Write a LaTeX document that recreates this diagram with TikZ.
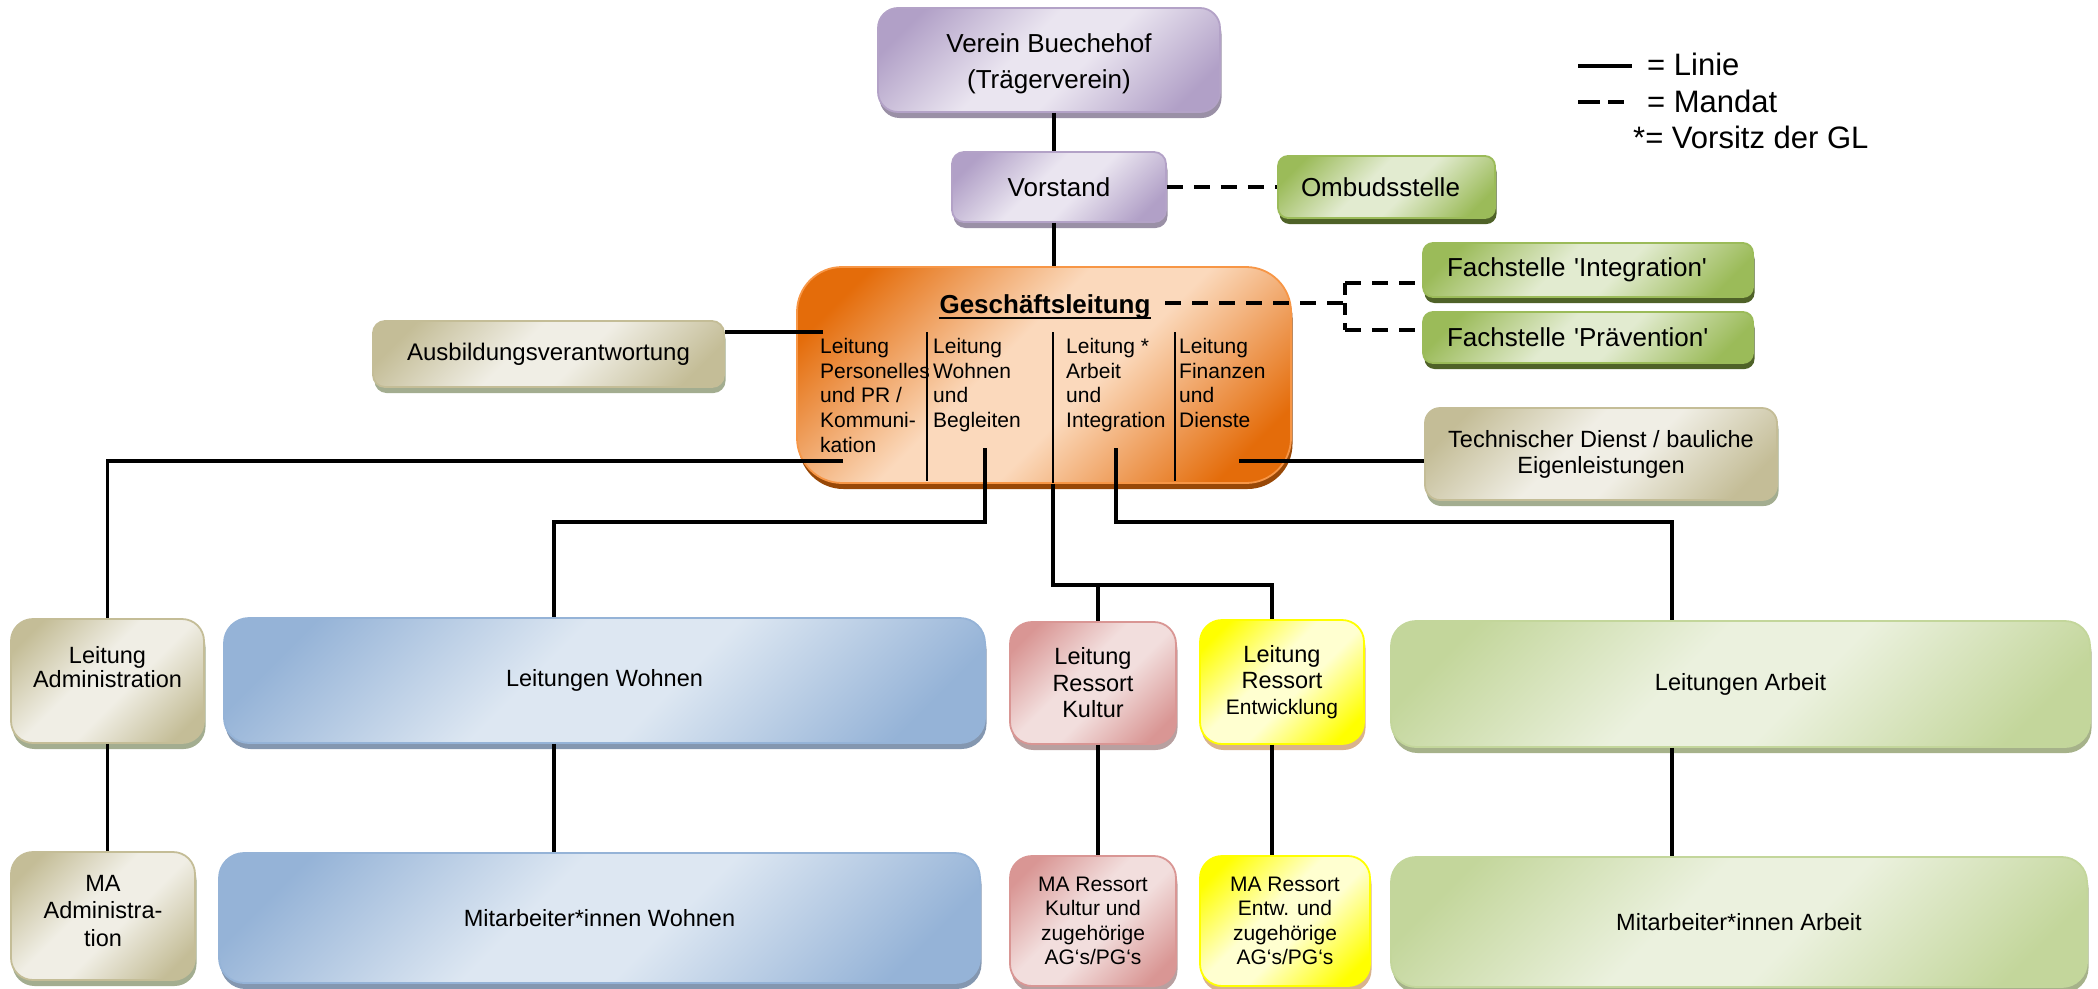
\documentclass[tikz,border=0pt]{standalone}
\usepackage{fontspec}
\setmainfont{Liberation Sans}
\usetikzlibrary{shadows}
\newcommand{\fsz}[2]{\fontsize{#1}{#2}\selectfont}
\definecolor{purB}{HTML}{B3A2C7}\definecolor{purD}{HTML}{B1A0C7}\definecolor{purL}{HTML}{EAE5F0}\definecolor{purS}{HTML}{9A90A6}
\definecolor{grnB}{HTML}{9BBB59}\definecolor{grnD}{HTML}{9BBB59}\definecolor{grnL}{HTML}{E2EBD0}\definecolor{grnS}{HTML}{4F6228}
\definecolor{orgB}{HTML}{F79646}\definecolor{orgD}{HTML}{E46C0A}\definecolor{orgL}{HTML}{FBD9BC}\definecolor{orgS}{HTML}{984807}
\definecolor{tanB}{HTML}{C4BD97}\definecolor{tanD}{HTML}{C4BD97}\definecolor{tanL}{HTML}{F0EEE5}\definecolor{tanS}{HTML}{A3AD90}
\definecolor{bluB}{HTML}{95B3D7}\definecolor{bluD}{HTML}{95B3D7}\definecolor{bluL}{HTML}{DDE7F2}\definecolor{bluS}{HTML}{8497B0}
\definecolor{redB}{HTML}{D99694}\definecolor{redD}{HTML}{D99694}\definecolor{redL}{HTML}{F2DEDD}\definecolor{redS}{HTML}{B8A0A0}
\definecolor{yelB}{HTML}{FFFF00}\definecolor{yelD}{HTML}{FFFF00}\definecolor{yelL}{HTML}{FFFFD0}\definecolor{yelS}{HTML}{D9B38C}
\definecolor{lgrB}{HTML}{C3D69B}\definecolor{lgrD}{HTML}{C3D69B}\definecolor{lgrL}{HTML}{EBF1DE}\definecolor{lgrS}{HTML}{A6B28A}
\colorlet{shD}{black}\colorlet{shL}{white}
\pgfdeclareverticalshading[shD,shL]{plateau}{100bp}{color(0bp)=(shD); color(22bp)=(shD); color(44bp)=(shL); color(56bp)=(shL); color(78bp)=(shD); color(100bp)=(shD)}
\tikzset{
  colbox/.style n args={4}{draw=#1, line width=1.8pt, inner sep=0pt, align=center,
    /utils/exec={\colorlet{shD}{#2}\colorlet{shL}{#3}},
    shading=plateau, shading angle=45, shade,
    drop shadow={shadow xshift=1.5pt, shadow yshift=-6pt, fill=#4, opacity=1}},
  purplebox/.style={colbox={purB}{purD}{purL}{purS}},
  greenbox/.style={colbox={grnB}{grnD}{grnL}{grnS}},
  orangebox/.style={colbox={orgB}{orgD}{orgL}{orgS}},
  tanbox/.style={colbox={tanB}{tanD}{tanL}{tanS}},
  bluebox/.style={colbox={bluB}{bluD}{bluL}{bluS}},
  redbox/.style={colbox={redB}{redD}{redL}{redS}},
  yellowbox/.style={colbox={yelB}{yelD}{yelL}{yelS}},
  lgreenbox/.style={colbox={lgrB}{lgrD}{lgrL}{lgrS}},
  coltext/.style={anchor=north west, inner sep=0pt, align=left, font=\fsz{21}{24.7}},
  legtext/.style={anchor=base west, inner sep=0pt, font=\fsz{31}{37}},
  conn/.style={line width=3.2pt},
  mand/.style={line width=3.2pt, dash pattern=on 16pt off 11pt},
  sepline/.style={line width=1.3pt}
}
\begin{document}
\begin{tikzpicture}[x=1pt, y=-1pt]
\useasboundingbox (0,0) rectangle (2098,988);

% top
\node[purplebox, rounded corners=20pt, minimum width=342pt, minimum height=104pt] (verein) at (1049,60) {};
\node[inner sep=0pt, align=center, font=\fsz{26}{36}] (vereintxt) at (1049,64) {Verein Buechehof\\(Trägerverein)};
\node[purplebox, rounded corners=12pt, minimum width=214pt, minimum height=70pt, font=\fsz{26}{30}] (vorstand) at (1059,187) {Vorstand};
\node[greenbox, rounded corners=10pt, minimum width=217pt, minimum height=62pt, inner xsep=23pt, text width=171pt, align=left, font=\fsz{26}{30}] (ombuds) at (1386.5,187) {Ombudsstelle};

% Geschaeftsleitung
\node[orangebox, rounded corners=45pt, minimum width=494pt, minimum height=216pt] (gl) at (1044,375) {};
\node[anchor=base, inner sep=0pt, font=\fsz{26}{30}\bfseries] (gltitle) at (1045,313) {Geschäftsleitung};
\draw[line width=2pt] ([yshift=-5pt]gltitle.base west) -- ([yshift=-5pt]gltitle.base east);
\node[coltext] (c1) at (820,338) {Leitung\\Personelles\\und PR /\\Kommuni-\\kation};
\node[coltext] (c2) at (933,338) {Leitung\\Wohnen\\und\\Begleiten};
\node[coltext] (c3) at (1066,338) {Leitung *\\Arbeit\\und\\Integration};
\node[coltext] (c4) at (1179,338) {Leitung\\Finanzen\\und\\Dienste};
\draw[sepline] (927,332) -- (927,481);
\draw[sepline] (1053,332) -- (1053,483);
\draw[sepline] (1175,332) -- (1175,481);

% side boxes
\node[tanbox, rounded corners=12pt, minimum width=351pt, minimum height=66pt, font=\fsz{24}{28}] (ausb) at (548.5,354) {Ausbildungsverantwortung};
\node[greenbox, rounded corners=10pt, minimum width=330pt, minimum height=54pt, inner xsep=24pt, text width=282pt, align=left, font=\fsz{26}{30}] (fach1) at (1588,270) {Fachstelle \textquotesingle Integration\textquotesingle};
\node[greenbox, rounded corners=10pt, minimum width=330pt, minimum height=51pt, inner xsep=24pt, text width=282pt, align=left, font=\fsz{26}{30}] (fach2) at (1588,337.5) {Fachstelle \textquotesingle Prävention\textquotesingle};
\node[tanbox, rounded corners=15pt, minimum width=352pt, minimum height=92pt, font=\fsz{23.5}{26}] (tech) at (1601,454) {Technischer Dienst / bauliche\\Eigenleistungen};

% row 2
\node[tanbox, rounded corners=22pt, minimum width=193pt, minimum height=124pt] (leitadmin) at (107.5,681) {};
\node[inner sep=0pt, align=center, font=\fsz{23.5}{24.5}] (leitadmintxt) at (107.5,667) {Leitung\\Administration};
\node[bluebox, rounded corners=25pt, minimum width=761pt, minimum height=125pt, font=\fsz{23.5}{27}] (leitwohnen) at (604.5,680.5) {Leitungen Wohnen};
\node[redbox, rounded corners=22pt, minimum width=166pt, minimum height=122pt, font=\fsz{23.5}{26.5}] (leitkultur) at (1093,683) {Leitung\\Ressort\\Kultur};
\node[yellowbox, rounded corners=22pt, minimum width=164pt, minimum height=124pt, font=\fsz{23.5}{26}] (leitentw) at (1282,682) {Leitung\\Ressort\\{\fsz{21}{24}Entwicklung}};
\node[lgreenbox, rounded corners=25pt, minimum width=699pt, minimum height=126pt, font=\fsz{23.5}{27}] (leitarbeit) at (1740.5,684) {Leitungen Arbeit};

% row 3
\node[tanbox, rounded corners=22pt, minimum width=184pt, minimum height=128pt] (maadmin) at (103,916) {};
\node[inner sep=0pt, align=center, font=\fsz{23.5}{27.5}] (maadmintxt) at (103,911) {MA\\Administra-\\tion};
\node[bluebox, rounded corners=25pt, minimum width=761pt, minimum height=130pt, font=\fsz{23.5}{27}] (mawohnen) at (599.5,918) {Mitarbeiter*innen Wohnen};
\node[redbox, rounded corners=22pt, minimum width=166pt, minimum height=130pt, font=\fsz{21}{24.5}] (makultur) at (1093,921) {MA Ressort\\Kultur und\\zugehörige\\AG‘s/PG‘s};
\node[yellowbox, rounded corners=22pt, minimum width=170pt, minimum height=130pt, font=\fsz{21}{24.5}] (maentw) at (1285,921) {MA Ressort\\Entw. und\\zugehörige\\AG‘s/PG‘s};
\node[lgreenbox, rounded corners=25pt, minimum width=696pt, minimum height=130pt, font=\fsz{23.5}{27}] (maarbeit) at (1739,922) {Mitarbeiter*innen Arbeit};

% connectors
\coordinate (ax) at (1054,0);
\draw[conn] (verein.south -| ax) -- (vorstand.north -| ax);
\draw[conn] (vorstand.south -| ax) -- (gl.north -| ax);
\draw[mand] (vorstand.east) -- (vorstand.east -| ombuds.west);

\coordinate (gldash) at (1165,303);
\coordinate (fj) at (1345,303);
\coordinate (fj1) at (1345,283);
\coordinate (fj2) at (1345,330);
\draw[mand] (gldash) -- (fj);
\draw[mand, dash pattern=on 12pt off 8pt] (fj1) -- (fj2);
\draw[mand] (fj1) -- (fj1 -| fach1.west);
\draw[mand] (fj2) -- (fj2 -| fach2.west);

\coordinate (glA) at (823,332);
\draw[conn] (glA) -- (glA -| ausb.east);
\coordinate (glL) at (843,461);
\draw[conn] (glL) -- (glL -| leitadmin.north) -- (leitadmin.north);
\coordinate (glT) at (1239,461);
\draw[conn] (glT) -- (glT -| tech.west);

\coordinate (glW) at (985,448);
\coordinate (wx) at (554,522);
\draw[conn] (glW) |- (wx) -- (wx |- leitwohnen.north);
\coordinate (glR) at (1116,448);
\coordinate (rx) at (1672,522);
\draw[conn] (glR) |- (rx) -- (rx |- leitarbeit.north);
\coordinate (mx) at (1053,585);
\coordinate (kx) at (1098,585);
\coordinate (ex) at (1272,585);
\draw[conn] (gl.south -| mx) -- (mx) -- (ex) -- (ex |- leitentw.north);
\draw[conn] (kx) -- (kx |- leitkultur.north);

\draw[conn] (leitadmin.south) -- (leitadmin.south |- maadmin.north);
\draw[conn] (wx |- leitwohnen.south) -- (wx |- mawohnen.north);
\draw[conn] (kx |- leitkultur.south) -- (kx |- makultur.north);
\draw[conn] (ex |- leitentw.south) -- (ex |- maentw.north);
\draw[conn] (rx |- leitarbeit.south) -- (rx |- maarbeit.north);

% legend
\node[legtext] (leg1) at (1647,75) {= Linie};
\node[legtext] (leg2) at (1647,112) {= Mandat};
\node[legtext] (leg3) at (1633,148) {*= Vorsitz der GL};
\draw[line width=4pt] (1578,66) -- (1632,66);
\draw[line width=4pt, dash pattern=on 22pt off 8pt] (1578,102) -- (1624,102);
\end{tikzpicture}
\end{document}
